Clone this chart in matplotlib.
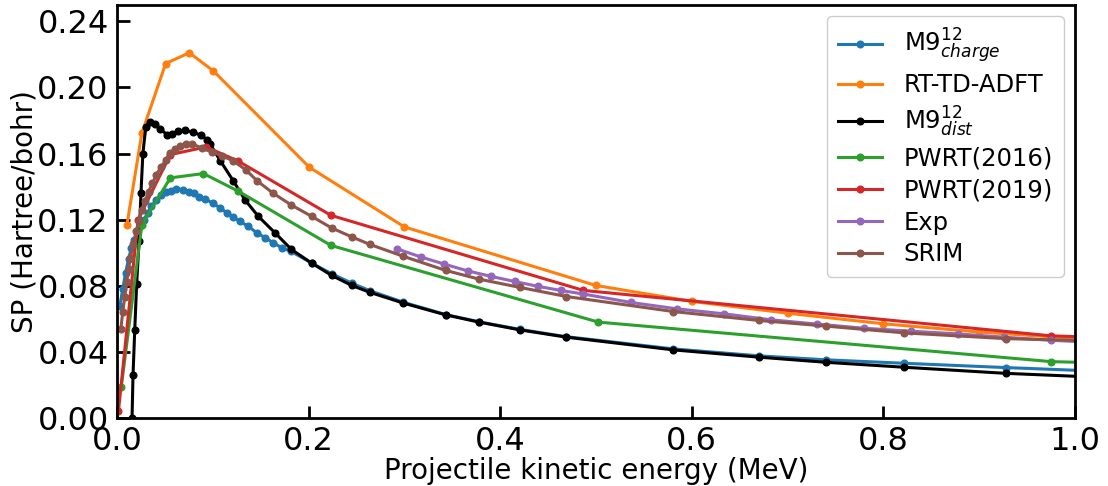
import matplotlib
matplotlib.use("Agg")
import matplotlib.pyplot as plt

# ---- data ----
charge_x = [0.003, 0.006, 0.009, 0.012, 0.015, 0.018, 0.021, 0.024, 0.028, 0.032,
            0.036, 0.041, 0.046, 0.051, 0.056, 0.062, 0.069, 0.075, 0.080, 0.086,
            0.092, 0.100, 0.108, 0.115, 0.1215, 0.128, 0.137, 0.146, 0.155, 0.163,
            0.172, 0.1816, 0.2032, 0.224, 0.245, 0.264, 0.299, 0.343, 0.378, 0.4206,
            0.469, 0.5807, 0.670, 0.7397, 0.8215, 0.9277, 1.03]
charge_y = [0.068, 0.078, 0.088, 0.096, 0.103, 0.108, 0.112, 0.116, 0.120, 0.124,
            0.128, 0.132, 0.135, 0.1365, 0.1376, 0.1386, 0.1382, 0.137, 0.1362, 0.134,
            0.1325, 0.130, 0.127, 0.124, 0.1216, 0.119, 0.116, 0.112, 0.109, 0.106,
            0.103, 0.1008, 0.0937, 0.0873, 0.0816, 0.077, 0.070, 0.0626, 0.0582, 0.0536,
            0.0492, 0.0418, 0.0376, 0.0352, 0.0331, 0.0305, 0.0282]

adft_x = [0.0104, 0.026, 0.0508, 0.0755, 0.1006, 0.2008, 0.300, 0.4997, 0.6006, 0.700,
          0.800, 0.900, 1.03]
adft_y = [0.117, 0.1725, 0.2145, 0.221, 0.210, 0.1517, 0.1156, 0.0802, 0.0705, 0.0634,
          0.057, 0.052, 0.047]

dist_x = [0.0157, 0.0167, 0.0185, 0.0205, 0.023, 0.025, 0.027, 0.030, 0.034, 0.040,
          0.045, 0.052, 0.057, 0.064, 0.071, 0.0797, 0.0877, 0.094, 0.097, 0.108,
          0.1215, 0.1336, 0.1475, 0.165, 0.182, 0.2032, 0.224, 0.245, 0.264, 0.299,
          0.343, 0.378, 0.4206, 0.469, 0.5807, 0.670, 0.7397, 0.8215, 0.9277, 1.03]
dist_y = [0.0, 0.0257, 0.053, 0.081, 0.107, 0.136, 0.160, 0.176, 0.179, 0.178,
          0.175, 0.1715, 0.172, 0.1735, 0.174, 0.173, 0.171, 0.1685, 0.166, 0.1555,
          0.1434, 0.132, 0.122, 0.112, 0.102, 0.0937, 0.0863, 0.0802, 0.076, 0.0695,
          0.0624, 0.058, 0.0533, 0.0489, 0.0412, 0.0368, 0.0337, 0.0307, 0.027, 0.0245]

pwrt16_x = [0.0045, 0.026, 0.0557, 0.0902, 0.1267, 0.2234, 0.5025, 0.975, 1.03]
pwrt16_y = [0.019, 0.117, 0.1453, 0.1479, 0.1372, 0.1044, 0.058, 0.0341, 0.0333]

pwrt19_x = [0.0015, 0.022, 0.0557, 0.093, 0.1267, 0.2234, 0.4868, 0.975, 1.03]
pwrt19_y = [0.004, 0.120, 0.1594, 0.164, 0.1554, 0.1226, 0.0772, 0.0497, 0.0487]

exp_x = [0.292, 0.3173, 0.3417, 0.366, 0.3904, 0.415, 0.439, 0.463, 0.4868, 0.5365,
         0.585, 0.634, 0.6827, 0.731, 0.780, 0.829, 0.8775, 0.926, 0.975, 1.03]
exp_y = [0.1024, 0.0974, 0.0931, 0.089, 0.0857, 0.0826, 0.0797, 0.0772, 0.075, 0.0699,
         0.066, 0.063, 0.0594, 0.0568, 0.0543, 0.0525, 0.0509, 0.0489, 0.0470, 0.0455]

srim_x = [0.004, 0.006, 0.008, 0.010, 0.012, 0.014, 0.017, 0.020, 0.023, 0.026,
          0.029, 0.033, 0.037, 0.041, 0.046, 0.051, 0.0553, 0.0605, 0.0658, 0.072,
          0.078, 0.0884, 0.0989, 0.1093, 0.1215, 0.1347, 0.1465, 0.163, 0.1816, 0.2032,
          0.224, 0.245, 0.264, 0.299, 0.343, 0.378, 0.4206, 0.469, 0.5807, 0.670,
          0.7397, 0.8215, 0.9277, 1.03]
srim_y = [0.054, 0.064, 0.073, 0.082, 0.090, 0.097, 0.105, 0.113, 0.119, 0.126,
          0.131, 0.137, 0.142, 0.147, 0.152, 0.156, 0.1604, 0.1628, 0.1648, 0.1656,
          0.1659, 0.1634, 0.161, 0.1586, 0.1556, 0.150, 0.1434, 0.136, 0.129, 0.122,
          0.115, 0.1096, 0.105, 0.0978, 0.0893, 0.084, 0.079, 0.0735, 0.0644, 0.059,
          0.0556, 0.0515, 0.048, 0.0465]

x_ticks = [0.0, 0.2, 0.4, 0.6, 0.8, 1.0]
y_ticks = [0.00, 0.04, 0.08, 0.12, 0.16, 0.20, 0.24]

# ---- figure ----
fig = plt.figure(figsize=(11.08, 4.86), dpi=100)
ax = fig.add_axes([0.1056, 0.140, 0.8646, 0.850])

lw, ms = 2.2, 4.8
ax.plot(charge_x, charge_y, '-o', color='#1f77b4', lw=lw, ms=ms, label=r'M9$^{12}_{charge}$')
ax.plot(adft_x, adft_y, '-o', color='#ff7f0e', lw=lw, ms=ms, label='RT-TD-ADFT')
ax.plot(dist_x, dist_y, '-o', color='black', lw=lw, ms=ms, label=r'M9$^{12}_{dist}$')
ax.plot(pwrt16_x, pwrt16_y, '-o', color='#2ca02c', lw=lw, ms=ms, label='PWRT(2016)')
ax.plot(pwrt19_x, pwrt19_y, '-o', color='#d62728', lw=lw, ms=ms, label='PWRT(2019)')
ax.plot(exp_x, exp_y, '-o', color='#9467bd', lw=lw, ms=ms, label='Exp')
ax.plot(srim_x, srim_y, '-o', color='#8c564b', lw=lw, ms=ms, label='SRIM')

ax.set_xlim(0, 1.0)
ax.set_ylim(0, 0.25)
ax.set_xticks(x_ticks)
ax.set_xticklabels([f"{v:.1f}" for v in x_ticks])
ax.set_yticks(y_ticks)
ax.set_yticklabels([f"{v:.2f}" for v in y_ticks])
ax.tick_params(axis='both', direction='in', length=9, width=2, labelsize=23, pad=6)
for s in ax.spines.values():
    s.set_linewidth(2)

ax.set_xlabel('Projectile kinetic energy (MeV)', fontsize=20, labelpad=0)
ax.set_ylabel('SP (Hartree/bohr)', fontsize=20, labelpad=-1)

ax.legend(loc='upper right', fontsize=17.5, handlelength=1.8, handletextpad=0.9,
          borderpad=0.45, labelspacing=0.32, framealpha=1.0, borderaxespad=0.45)

fig.savefig('out.png', dpi=100)
